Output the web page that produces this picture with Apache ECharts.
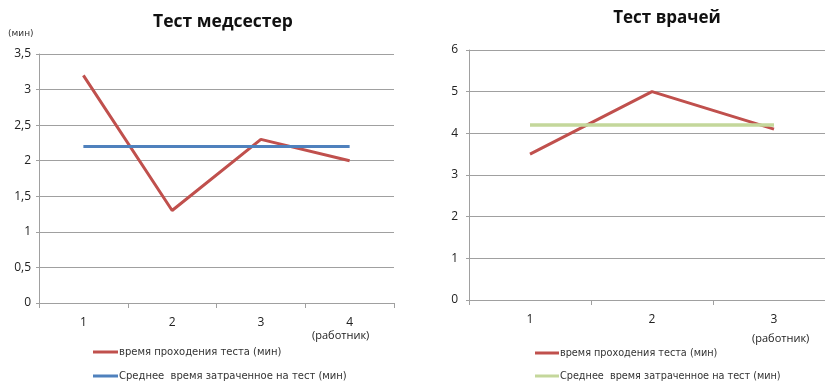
<!DOCTYPE html>
<html><head><meta charset="utf-8">
<script src="https://cdn.jsdelivr.net/npm/echarts@6/dist/echarts.min.js"></script>
<style>html,body{margin:0;padding:0;background:#fff;overflow:hidden}#c{width:835px;height:383px}</style>
</head><body><div id="c"></div>
<script>
const nurseCategories = ['1', '2', '3', '4'];
const nurseTimes = [3.2, 1.3, 2.3, 2.0];
const nurseAverage = [2.2, 2.2, 2.2, 2.2];
const doctorCategories = ['1', '2', '3'];
const doctorTimes = [3.5, 5.0, 4.1];
const doctorAverage = [4.2, 4.2, 4.2];
const seriesTime = 'время проходения теста (мин)';
const seriesAvgNurse = 'Среднее  время затраченное на тест (мин)';
const seriesTimeDoc = seriesTime + ' ';
const seriesAvgDoc = seriesAvgNurse + ' ';

const chart = echarts.init(document.getElementById('c'));
const axisCol = '#a0a0a0';
const tickFont = {fontFamily: 'Open Sans', fontSize: 12, color: '#222'};
const comma = v => String(v).replace('.', ',');
function xAx(i, data) {
  return {type: 'category', gridIndex: i, data: data, boundaryGap: true,
    axisLine: {lineStyle: {color: axisCol, width: 1}},
    axisTick: {show: true, length: 5, lineStyle: {color: axisCol}},
    axisLabel: Object.assign({margin: 14}, tickFont)};
}
function yAx(i, max, interval, margin) {
  return {type: 'value', gridIndex: i, min: 0, max: max, interval: interval,
    axisLine: {show: true, lineStyle: {color: axisCol, width: 1}},
    axisTick: {show: true, length: 3, lineStyle: {color: axisCol}},
    splitLine: {lineStyle: {color: axisCol, width: 1}},
    axisLabel: Object.assign({margin: margin, formatter: comma}, tickFont)};
}
const titleStyle = {fontFamily: 'Open Sans', fontWeight: 'bold', fontSize: 17.5, color: '#111'};
function leg(name, left, top, w, fs) {
  return {left: left, top: top, itemWidth: w, itemHeight: 3, icon: 'rect', data: [name],
    selectedMode: false, itemGap: 0, padding: 0,
    formatter: n => n.trim(),
    textStyle: {fontFamily: 'DejaVu Sans', fontSize: fs, color: '#333', padding: [0, 0, 0, -4]}};
}
chart.setOption({
  animation: false,
  title: [
    {text: 'Тест медсестер', left: 218, top: 8, textAlign: 'center', textStyle: titleStyle},
    {text: 'Тест врачей', left: 662, top: 5, textAlign: 'center', textStyle: Object.assign({}, titleStyle, {fontSize: 17})}
  ],
  grid: [
    {left: 39, top: 54, width: 355, bottom: 80},
    {left: 469, top: 50, right: 0, bottom: 83}
  ],
  xAxis: [xAx(0, nurseCategories), xAx(1, doctorCategories)],
  yAxis: [yAx(0, 3.5, 0.5, 8), yAx(1, 6, 1, 11)],
  legend: [
    leg(seriesTime, 93, 347, 25, 10),
    leg(seriesAvgNurse, 93, 371, 25, 10),
    leg(seriesTimeDoc, 535, 348, 24, 9.7),
    leg(seriesAvgDoc, 535, 371, 24, 9.7)
  ],
  graphic: [
    {type: 'text', left: 8, top: 29, style: {text: '(мин)', font: '9px "DejaVu Sans"', fill: '#333'}},
    {type: 'text', left: 312, top: 330, style: {text: '(работник)', font: '11px "Open Sans"', fill: '#222'}},
    {type: 'text', left: 752, top: 333, style: {text: '(работник)', font: '11px "Open Sans"', fill: '#222'}}
  ],
  series: [
    {name: seriesTime, type: 'line', xAxisIndex: 0, yAxisIndex: 0, data: nurseTimes, showSymbol: false,
      lineStyle: {color: '#c0504d', width: 3}, itemStyle: {color: '#c0504d'}},
    {name: seriesAvgNurse, type: 'line', xAxisIndex: 0, yAxisIndex: 0, data: nurseAverage, showSymbol: false,
      lineStyle: {color: '#4f81bd', width: 3}, itemStyle: {color: '#4f81bd'}},
    {name: seriesTimeDoc, type: 'line', xAxisIndex: 1, yAxisIndex: 1, data: doctorTimes, showSymbol: false,
      lineStyle: {color: '#c0504d', width: 3}, itemStyle: {color: '#c0504d'}},
    {name: seriesAvgDoc, type: 'line', xAxisIndex: 1, yAxisIndex: 1, data: doctorAverage, showSymbol: false,
      lineStyle: {color: '#c4d79b', width: 3.5}, itemStyle: {color: '#c4d79b'}}
  ]
});
</script></body></html>
